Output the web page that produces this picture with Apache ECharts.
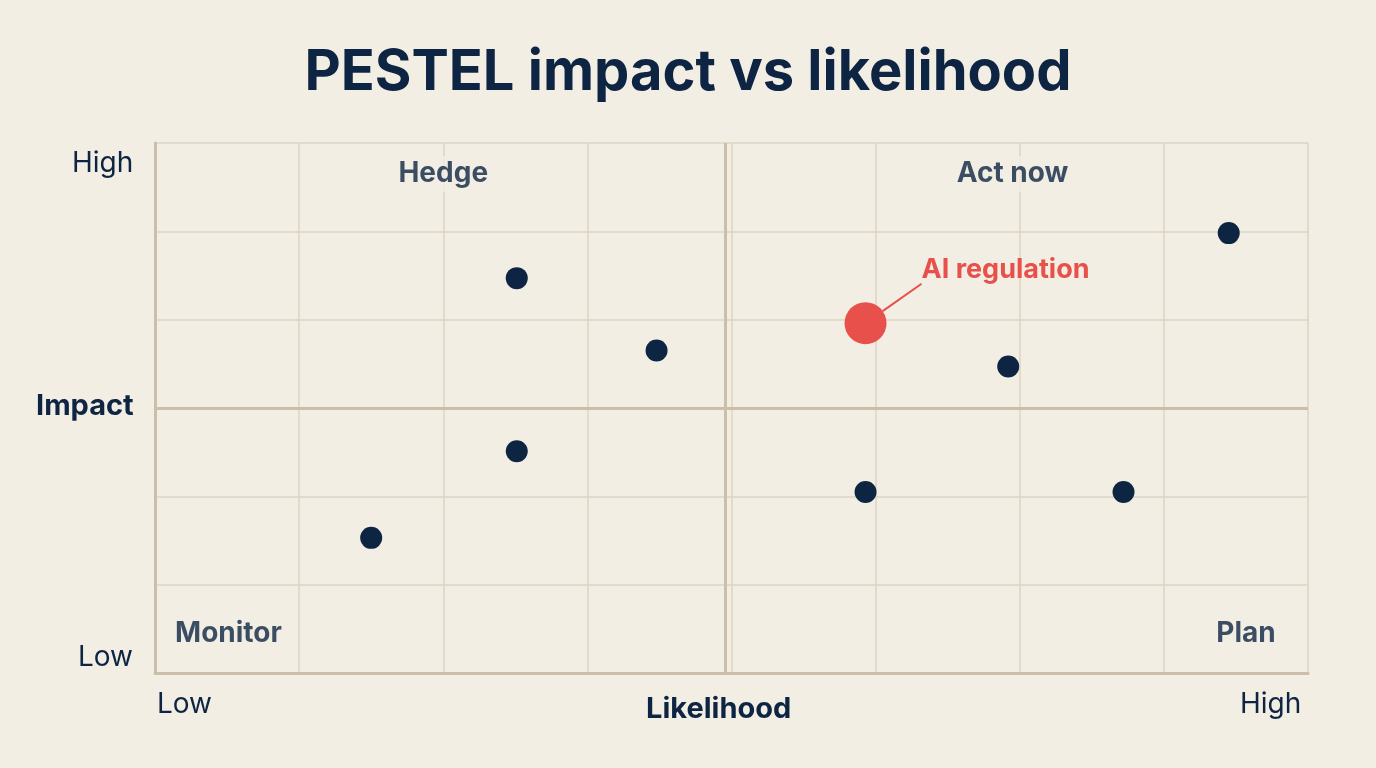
<!DOCTYPE html>
<html>
<head>
<meta charset="utf-8">
<script src="https://cdn.jsdelivr.net/npm/echarts@6/dist/echarts.min.js"></script>
<style>
  html, body { margin: 0; padding: 0; background: #f3eee3; }
  #main { width: 1376px; height: 768px; }
</style>
</head>
<body>
<div id="main"></div>
<script>
// factors on a 0-8 likelihood by 0-6 impact grid
const factors = [
    [2.51, 4.47],
    [3.48, 3.65],
    [2.51, 2.51],
    [1.50, 1.53],
    [5.92, 3.47],
    [4.93, 2.05],
    [6.72, 2.05],
    [7.45, 4.98]
]
const highlight = { name: 'AI regulation', value: [4.93, 3.96] }
const quadrants = [
    { name: 'Hedge', value: [2, 5.65] },
    { name: 'Act now', value: [5.95, 5.65] },
    { name: 'Monitor', value: [0.51, 0.45] },
    { name: 'Plan', value: [7.57, 0.45] }
]

const navy = '#0d2442'
const gridColor = '#dcd3c2'
const axisColor = '#cbbfa9'

let myChart = echarts.init(document.getElementById('main'))
let option = {
    backgroundColor: '#f3eee3',
    textStyle: { fontFamily: 'Inter, "Noto Sans", sans-serif' },
    title: {
        text: 'PESTEL impact vs likelihood',
        left: 'center',
        top: 40,
        textStyle: { fontSize: 56, fontWeight: 'bold', color: navy }
    },
    grid: { left: 155, right: 68, top: 143, bottom: 95 },
    xAxis: {
        type: 'value', min: 0, max: 8, interval: 1,
        axisLine: { show: true, lineStyle: { color: axisColor, width: 3 } },
        axisTick: { show: false },
        axisLabel: { show: false },
        splitLine: { lineStyle: { color: gridColor, width: 1.5 } }
    },
    yAxis: {
        type: 'value', min: 0, max: 6, interval: 1,
        axisLine: { show: true, lineStyle: { color: axisColor, width: 3 } },
        axisTick: { show: false },
        axisLabel: { show: false },
        splitLine: { lineStyle: { color: gridColor, width: 1.5 } }
    },
    graphic: [
        { type: 'text', left: 72, top: 150, style: { text: 'High', fontSize: 28, fill: navy, fontFamily: 'Inter' } },
        { type: 'text', left: 78, top: 644, style: { text: 'Low', fontSize: 28, fill: navy, fontFamily: 'Inter' } },
        { type: 'text', left: 36, top: 392, style: { text: 'Impact', fontSize: 29, fontWeight: 'bold', fill: navy, fontFamily: 'Inter' } },
        { type: 'text', left: 157, top: 691, style: { text: 'Low', fontSize: 28, fill: navy, fontFamily: 'Inter' } },
        { type: 'text', left: 646, top: 695, style: { text: 'Likelihood', fontSize: 29, fontWeight: 'bold', fill: navy, fontFamily: 'Inter' } },
        { type: 'text', left: 1240, top: 691, style: { text: 'High', fontSize: 28, fill: navy, fontFamily: 'Inter' } }
    ],
    series: [
        {
            type: 'scatter',
            data: factors,
            symbolSize: 22,
            itemStyle: { color: navy, opacity: 1 },
            markLine: {
                silent: true,
                symbol: 'none',
                label: { show: false },
                lineStyle: { color: axisColor, width: 3, type: 'solid' },
                data: [{ xAxis: 3.96 }, { yAxis: 3 }]
            }
        },
        {
            type: 'scatter',
            data: [highlight],
            symbolSize: 42,
            itemStyle: { color: '#e8504c', opacity: 1 },
            label: {
                show: true,
                formatter: '{b}',
                position: 'right',
                offset: [30, -53],
                fontSize: 27,
                fontWeight: 'bold',
                color: '#e8504c'
            },
            labelLine: { show: true, lineStyle: { color: '#e8504c', width: 2 } }
        },
        {
            type: 'scatter',
            data: quadrants,
            symbolSize: 0,
            label: {
                show: true,
                formatter: '{b}',
                position: 'inside',
                fontSize: 28,
                fontWeight: 'bold',
                color: navy,
                backgroundColor: '#f3eee3',
                padding: [4, 8]
            }
        }
    ]
}
myChart.setOption(option)
</script>
</body>
</html>
